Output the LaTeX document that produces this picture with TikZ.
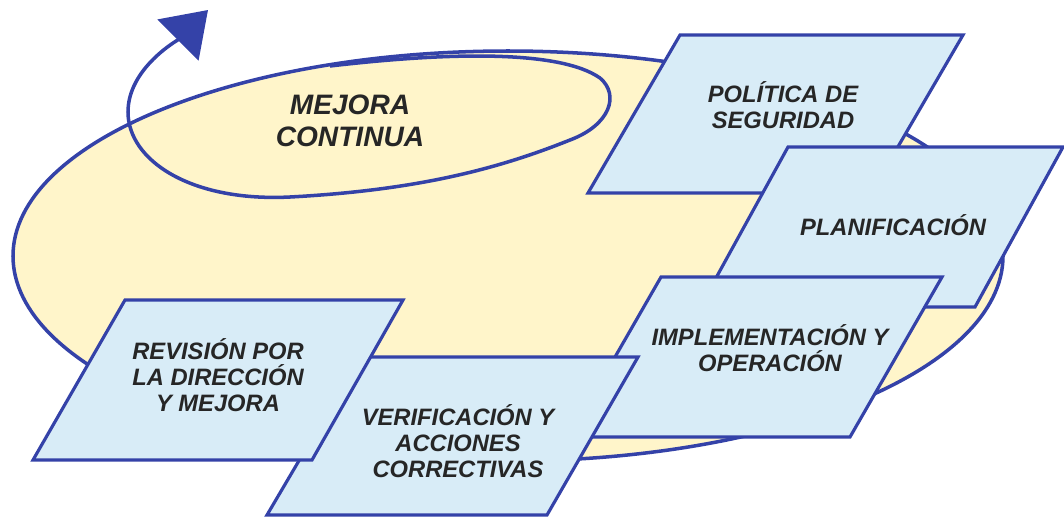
\documentclass[tikz,border=0pt]{standalone}
\usepackage{fontspec}
\newfontfamily\stagefont{Liberation Sans}
\usetikzlibrary{arrows.meta}

\definecolor{loopblue}{RGB}{52,66,168}
\definecolor{cream}{RGB}{255,245,202}
\definecolor{paleblue}{RGB}{216,236,247}

\begin{document}
\begin{tikzpicture}[x=0.02cm, y=-0.02cm,
        stage/.style={draw=loopblue, fill=paleblue, line width=1.8pt},
        stagetext/.style={align=center, text=black!85,
            font=\stagefont\bfseries\itshape\fontsize{13.5}{14.8}\selectfont}]
        % Canvas
        \useasboundingbox (0,0) rectangle (1064,518);

        % Outer loop
        \draw[loopblue, fill=cream, line width=2pt] (508,256)
            ellipse [x radius=495, y radius=205];

        % Inner spiral with arrow
        \draw[loopblue, line width=2pt, -{Triangle[length=0.85cm, width=1.15cm]}]
            (330,66) .. controls (450,52) and (560,50) .. (600,78)
            .. controls (620,95) and (610,125) .. (570,140)
            .. controls (500,168) and (420,190) .. (290,197)
            .. controls (190,202) and (128,160) .. (128,112)
            .. controls (128,68) and (178,40) .. (208,10);
        \node[stagetext, font=\stagefont\bfseries\itshape\fontsize{16}{18}\selectfont]
            (mejora) at (350,121) {MEJORA\\CONTINUA};

        % Stages
        \draw[stage] (680,35) -- (963,35) -- (871,193) -- (588,193) -- cycle;
        \node[stagetext] (politica) at (783,105) {POLÍTICA DE\\SEGURIDAD};

        \draw[stage] (788,147) -- (1063,147) -- (975,307) -- (700,307) -- cycle;
        \node[stagetext] (planif) at (893,225) {PLANIFICACIÓN};

        \draw[stage] (661,277) -- (942,277) -- (850,437) -- (569,437) -- cycle;
        \node[stagetext] (implem) at (770,348) {IMPLEMENTACIÓN Y\\OPERACIÓN};

        \draw[stage] (360,357) -- (638,357) -- (547,515) -- (267,515) -- cycle;
        \node[stagetext] (verif) at (458,441) {VERIFICACIÓN Y\\ACCIONES\\CORRECTIVAS};

        \draw[stage] (125,300) -- (403,300) -- (312,460) -- (33,460) -- cycle;
        \node[stagetext] (revision) at (218,375) {REVISIÓN POR\\LA DIRECCIÓN\\Y MEJORA};
\end{tikzpicture}
\end{document}
